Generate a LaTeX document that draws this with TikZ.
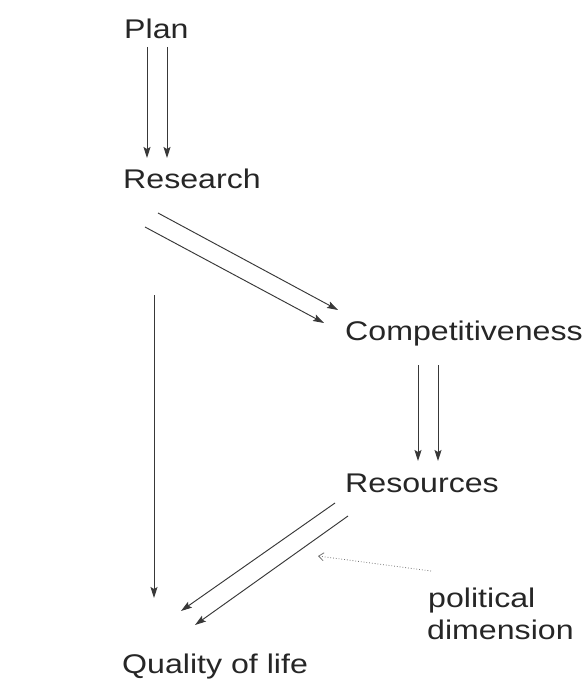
\documentclass[tikz,border=0pt]{standalone}
\usepackage{fontspec}
\setmainfont{Liberation Sans}
\usetikzlibrary{arrows.meta}
\definecolor{ink}{HTML}{262626}
\definecolor{wire}{HTML}{383838}
\newcommand{\wide}[1]{\scalebox{1.19}[1]{#1}}
\begin{document}
\begin{tikzpicture}[x=1pt,y=-1pt,
  lbl/.style={anchor=base west, inner sep=0pt, text=ink,
    font=\fontsize{27}{32}\selectfont},
  flow/.style={draw=wire, line width=0.95pt,
    -{Stealth[length=11pt,width=7pt,inset=2pt]}},
  hint/.style={draw=wire!70, line width=0.8pt, dotted,
    -{Straight Barb[length=5pt,width=8pt]}}]
\useasboundingbox (0,0) rectangle (588,679);

% labels
\node[lbl] (plan) at (124,39) {\wide{Plan}};
\node[lbl] (research) at (123,188) {\wide{Research}};
\node[lbl] (comp) at (345,340) {\wide{Competitiveness}};
\node[lbl] (res) at (345,492) {\wide{Resources}};
\node[lbl] (qol) at (122,673) {\wide{Quality of life}};
\node[lbl] (pol) at (428,607) {\wide{political}};
\node[lbl] (dim) at (427,639) {\wide{dimension}};

% connector end points
\coordinate (p1) at (147,47);  \coordinate (r1) at (147,158);
\coordinate (p2) at (167,47);  \coordinate (r2) at (167,158);
\coordinate (r3) at (158,213); \coordinate (c3) at (338,310);
\coordinate (r4) at (145,227); \coordinate (c4) at (324,323);
\coordinate (r5) at (154,295); \coordinate (q5) at (154,598);
\coordinate (c6) at (418,365); \coordinate (s6) at (418,461);
\coordinate (c7) at (438,365); \coordinate (s7) at (438,461);
\coordinate (s8) at (335,503); \coordinate (q8) at (181,611);
\coordinate (s9) at (348,516); \coordinate (q9) at (195,625);
\coordinate (d1) at (431,571); \coordinate (d2) at (318,556);

% connectors
\draw[flow] (p1) -- (r1);
\draw[flow] (p2) -- (r2);
\draw[flow] (r3) -- (c3);
\draw[flow] (r4) -- (c4);
\draw[flow] (r5) -- (q5);
\draw[flow] (c6) -- (s6);
\draw[flow] (c7) -- (s7);
\draw[flow] (s8) -- (q8);
\draw[flow] (s9) -- (q9);
\draw[hint] (d1) -- (d2);
\end{tikzpicture}
\end{document}
